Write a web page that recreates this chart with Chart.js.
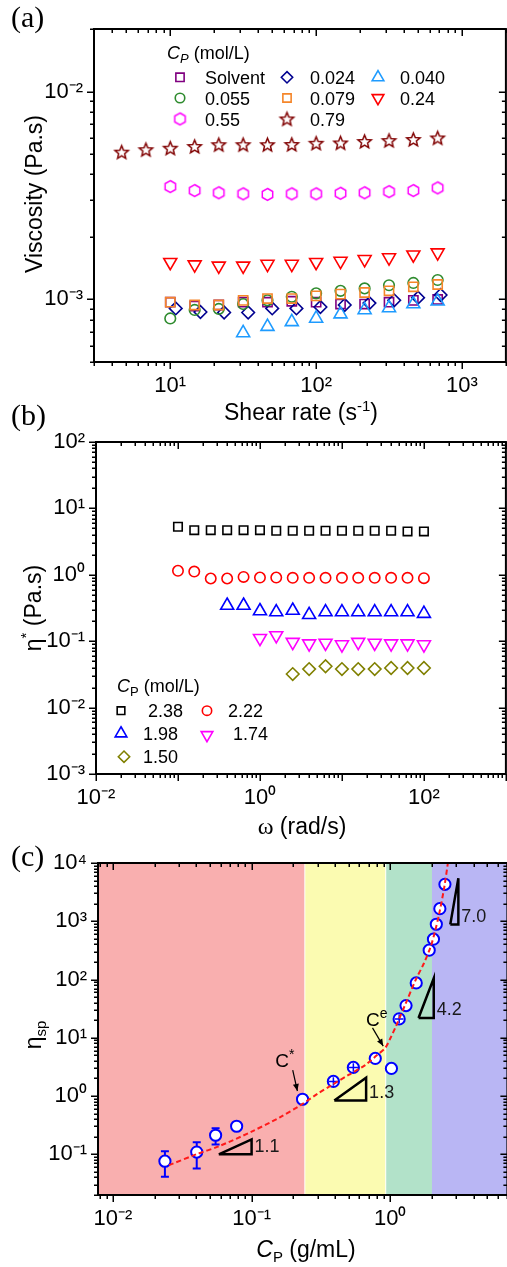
<!DOCTYPE html>
<html><head><meta charset="utf-8">
<script src="https://cdn.jsdelivr.net/npm/chart.js@4.4.0/dist/chart.umd.min.js"></script>
<style>
html,body{margin:0;padding:0;background:#fff;overflow:hidden;}
#wrap{position:relative;width:507px;height:1267px;overflow:hidden;background:#fff;}
canvas{position:absolute;left:0;}
</style></head><body>
<div id="wrap">
<canvas id="ca" width="515" height="430" style="top:0px;width:515px;height:430px"></canvas>
<canvas id="cb" width="515" height="450" style="top:395px;width:515px;height:450px"></canvas>
<canvas id="cc" width="515" height="427" style="top:840px;width:515px;height:427px"></canvas>
</div>
<script>
// ================= DATA =================
// Panel (a): viscosity vs shear rate
const rateStar    = [4.64, 6.81, 10, 14.7, 21.5, 31.6, 46.4, 68.1, 100, 147, 215, 316, 464, 681];
const rateMain    = [10, 14.7, 21.5, 31.6, 46.4, 68.1, 100, 147, 215, 316, 464, 681];
const rateDiamond = [10.9, 16.1, 23.4, 34.2, 50, 73.3, 107, 157, 232, 343, 500, 713];
const rateTri     = [31.6, 46.4, 68.1, 100, 147, 215, 316, 464, 681];

const viscSolvent = [0.00097, 0.00093, 0.00094, 0.00097, 0.00097, 0.00098, 0.00097, 0.00095, 0.00095, 0.00097, 0.00099, 0.00100];
const visc0024    = [0.000905, 0.00087, 0.000865, 0.000865, 0.000905, 0.000905, 0.00092, 0.00094, 0.00096, 0.00099, 0.00102, 0.00105];
const visc0040    = [0.00069, 0.00074, 0.00078, 0.00081, 0.00085, 0.00089, 0.00091, 0.00095, 0.00098];
const visc0055    = [0.00081, 0.00089, 0.00090, 0.00095, 0.00099, 0.00103, 0.00107, 0.00110, 0.00113, 0.00117, 0.00120, 0.00124];
const visc0079    = [0.00097, 0.00094, 0.00094, 0.00099, 0.00101, 0.00101, 0.00104, 0.00106, 0.00108, 0.00110, 0.00115, 0.00118];
const visc024     = [0.00151, 0.00147, 0.00145, 0.00145, 0.00148, 0.00148, 0.00151, 0.00153, 0.00156, 0.00159, 0.00164, 0.00168];
const visc055     = [0.00349, 0.00334, 0.00326, 0.00322, 0.00320, 0.00322, 0.00322, 0.00324, 0.00326, 0.00330, 0.00334, 0.00344];
const visc079     = [0.00511, 0.00525, 0.00534, 0.00544, 0.00555, 0.00555, 0.00555, 0.00556, 0.00564, 0.00566, 0.00575, 0.00581, 0.00588, 0.00598];
const legendA     = ['Solvent', '0.024', '0.040', '0.055', '0.079', '0.24', '0.55', '0.79'];

// Panel (b): complex viscosity vs angular frequency
const omega   = [0.1, 0.158, 0.251, 0.398, 0.631, 1, 1.58, 2.51, 3.98, 6.31, 10, 15.8, 25.1, 39.8, 63.1, 100];
const omega198 = [0.398, 0.631, 1, 1.58, 2.51, 3.98, 6.31, 10, 15.8, 25.1, 39.8, 63.1, 100];
const omega174 = [1, 1.58, 2.51, 3.98, 6.31, 10, 15.8, 25.1, 39.8, 63.1, 100];
const omega150 = [2.51, 3.98, 6.31, 10, 15.8, 25.1, 39.8, 63.1, 100];
const eta238 = [5.3, 4.7, 4.7, 4.7, 4.7, 4.7, 4.6, 4.6, 4.6, 4.6, 4.6, 4.6, 4.6, 4.6, 4.5, 4.5];
const eta222 = [1.15, 1.12, 0.88, 0.88, 0.93, 0.91, 0.91, 0.90, 0.90, 0.90, 0.90, 0.90, 0.90, 0.90, 0.90, 0.89];
const eta198 = [0.345, 0.345, 0.285, 0.275, 0.29, 0.25, 0.275, 0.275, 0.275, 0.275, 0.275, 0.275, 0.26];
const eta174 = [0.111, 0.122, 0.097, 0.092, 0.094, 0.089, 0.097, 0.094, 0.092, 0.092, 0.089];
const eta150 = [0.032, 0.038, 0.042, 0.038, 0.038, 0.038, 0.0395, 0.0395, 0.0395];
const legendB = ['2.38', '2.22', '1.98', '1.74', '1.50'];

// Panel (c): specific viscosity vs concentration
const concP  = [0.0237, 0.0402, 0.055, 0.078, 0.233, 0.389, 0.542, 0.78, 1.02, 1.16, 1.30, 1.54, 1.91, 2.05, 2.15, 2.28, 2.48];
const etaSp  = [0.076, 0.109, 0.212, 0.303, 0.88, 1.78, 3.1, 4.42, 2.98, 21.1, 35.7, 87.5, 319, 492, 889, 1645, 4300];
const errLow  = [0.041, 0.057, 0.147, null, null, 1.5, 2.6, null, null, 17.7, null, null, null, null, null, null, null];
const errHigh = [0.113, 0.161, 0.28, null, null, 2.1, 3.65, null, null, 25, null, null, null, null, null, null, null];
const errXLow  = [null, null, null, null, null, 0.36, 0.50, null, null, 1.08, null, null, null, null, null, null, null];
const errXHigh = [null, null, null, null, null, 0.42, 0.585, null, null, 1.245, null, null, null, null, null, null, null];
const fitX = [0.0254, 0.04, 0.058, 0.1, 0.16, 0.226, 0.3, 0.38, 0.5, 0.66, 0.8, 0.92, 1.0, 1.1, 1.3, 1.53, 1.75, 1.96, 2.1, 2.25, 2.45, 2.62];
const fitY = [0.065, 0.1, 0.137, 0.245, 0.43, 0.70, 1.1, 1.55, 2.3, 3.4, 5.0, 6.7, 9.7, 15.8, 40, 100, 190, 370, 660, 1320, 3760, 11000];
const regionEdges = [0.0078, 0.24, 0.92, 2.0, 7];
const slope11X = [0.058, 0.1, 0.1, 0.058], slope11Y = [0.1, 0.18, 0.1, 0.1];
const slope13X = [0.395, 0.67, 0.67, 0.395], slope13Y = [0.84, 2.07, 0.84, 0.84];
const slope42X = [1.6, 2.06, 2.06, 1.6],     slope42Y = [21.9, 105, 21.9, 21.9];
const slope70X = [2.71, 3.1, 3.1, 2.71],     slope70Y = [880, 5500, 880, 880];
const slopeLabels = ['1.1', '1.3', '4.2', '7.0'];

// ================= HELPERS =================
const FONT = '"Liberation Sans", Arial, Helvetica, sans-serif';
const SERIF = '"Liberation Serif", "Times New Roman", serif';
const SUP = {'-':'\u207B','0':'\u2070','1':'\u00B9','2':'\u00B2','3':'\u00B3','4':'\u2074','5':'\u2075','6':'\u2076','7':'\u2077','8':'\u2078','9':'\u2079'};
function powLabel(v, show) {
  const l = Math.log10(v), e = Math.round(l);
  if (Math.abs(l - e) > 1e-7 || !show.includes(e)) return '';
  return '10' + String(e).split('').map(c => SUP[c]).join('');
}
const pts = (xs, ys) => xs.map((x, i) => ({x, y: ys[i]}));

function polyImg(color, r, lw, kind) {
  const s = Math.ceil(2 * r + 2 * lw + 2);
  const c = document.createElement('canvas'); c.width = c.height = s;
  const g = c.getContext('2d'); g.strokeStyle = color; g.lineWidth = lw; g.lineJoin = 'miter';
  g.beginPath();
  if (kind === 'star') {
    for (let i = 0; i < 10; i++) { const a = -Math.PI / 2 + i * Math.PI / 5; const rr = i % 2 ? r * 0.45 : r; g.lineTo(s / 2 + rr * Math.cos(a), s / 2 + 0.5 + rr * Math.sin(a)); }
  } else {
    for (let i = 0; i < 6; i++) { const a = -Math.PI / 2 + i * Math.PI / 3; g.lineTo(s / 2 + r * Math.cos(a), s / 2 + r * Math.sin(a)); }
  }
  g.closePath(); g.stroke(); return c;
}
const starImg = polyImg('#800000', 7, 1.5, 'star');
const hexImg = polyImg('#FF00FF', 6, 1.5, 'hex');

function marker(ctx, style, x, y, r, color, lw, rot, fill) {
  ctx.save();
  if (style instanceof HTMLCanvasElement) { ctx.drawImage(style, x - style.width / 2, y - style.height / 2); ctx.restore(); return; }
  ctx.strokeStyle = color; ctx.lineWidth = lw; ctx.fillStyle = fill || 'rgba(0,0,0,0)';
  ctx.translate(x, y); ctx.rotate((rot || 0) * Math.PI / 180); ctx.beginPath();
  if (style === 'circle') ctx.arc(0, 0, r, 0, 2 * Math.PI);
  else if (style === 'rect') { const s = r * Math.SQRT1_2; ctx.rect(-s, -s, 2 * s, 2 * s); }
  else if (style === 'rectRot') { ctx.moveTo(-r, 0); ctx.lineTo(0, -r); ctx.lineTo(r, 0); ctx.lineTo(0, r); ctx.closePath(); }
  else if (style === 'triangle') { for (let i = 0; i < 3; i++) { const a = i * 2 * Math.PI / 3; ctx.lineTo(Math.sin(a) * r, -Math.cos(a) * r); } ctx.closePath(); }
  ctx.fill(); ctx.stroke(); ctx.restore();
}

function rich(ctx, segs, x, y, rot, align) {
  ctx.save(); ctx.translate(x, y); if (rot) ctx.rotate(rot);
  let w = 0; segs.forEach(s => { ctx.font = s.f; s.w = ctx.measureText(s.t).width; w += s.w; });
  let cx = align === 'left' ? 0 : -w / 2;
  ctx.textBaseline = 'alphabetic'; ctx.fillStyle = '#000';
  segs.forEach(s => { ctx.font = s.f; ctx.fillStyle = s.c || '#000'; ctx.fillText(s.t, cx, s.dy || 0); cx += s.w; });
  ctx.restore();
}

function drawLogTicks(ctx, scale, area, side) {
  const min = scale.min, max = scale.max;
  const e0 = Math.floor(Math.log10(min)), e1 = Math.ceil(Math.log10(max));
  ctx.save(); ctx.strokeStyle = '#000'; ctx.lineWidth = 1.5; ctx.beginPath();
  for (let e = e0; e <= e1; e++) for (let k = 1; k <= 9; k++) {
    const v = k * Math.pow(10, e);
    if (v < min * 0.9999 || v > max * 1.0001) continue;
    const p = Math.round(scale.getPixelForValue(v)) + 0.25;
    const len = k === 1 ? 7 : 4;
    if (side === 'bottom') { ctx.moveTo(p, area.bottom); ctx.lineTo(p, area.bottom + len); }
    if (side === 'top') { ctx.moveTo(p, area.top); ctx.lineTo(p, area.top + len); }
    if (side === 'left') { ctx.moveTo(area.left, p); ctx.lineTo(area.left - len, p); }
    if (side === 'right') { ctx.moveTo(area.right, p); ctx.lineTo(area.right - len, p); }
  }
  ctx.stroke(); ctx.restore();
}

function frameAndTicks(chart) {
  const ctx = chart.ctx, a = chart.chartArea, x = chart.scales.x, y = chart.scales.y;
  drawLogTicks(ctx, x, a, 'bottom'); drawLogTicks(ctx, x, a, 'top');
  drawLogTicks(ctx, y, a, 'left'); drawLogTicks(ctx, y, a, 'right');
  ctx.save(); ctx.strokeStyle = '#000'; ctx.lineWidth = 2;
  ctx.strokeRect(a.left, a.top, a.right - a.left, a.bottom - a.top); ctx.restore();
}

function logAxis(min, max, show, fitFn) {
  return {
    type: 'logarithmic', min, max,
    grid: {display: true, drawOnChartArea: false, drawTicks: true, tickLength: 6, color: 'rgba(0,0,0,0)'},
    border: {display: false},
    ticks: {autoSkip: false, maxRotation: 0, minRotation: 0, padding: 5, color: '#000',
      font: {family: FONT, size: 22}, callback: v => powLabel(v, show)},
    afterFit: fitFn
  };
}
function baseOptions(pad, yW, xH, xs, ys) {
  return {
    responsive: false, animation: false, devicePixelRatio: 1,
    layout: {padding: pad},
    plugins: {legend: {display: false}, tooltip: {enabled: false}},
    scales: {
      x: logAxis(xs[0], xs[1], xs[2], s => { s.height = xH; }),
      y: logAxis(ys[0], ys[1], ys[2], s => { s.width = yW; })
    }
  };
}
Chart.defaults.font.family = FONT;

// ================= PANEL (a) =================
const stylesA = [
  {c: '#800080', s: 'rect', r: 6.5},
  {c: '#000090', s: 'rectRot', r: 6.3},
  {c: '#1E9BFF', s: 'triangle', r: 7.5},
  {c: '#2E8B2E', s: 'circle', r: 5.3},
  {c: '#F5862A', s: 'rect', r: 6.5},
  {c: '#FF0000', s: 'triangle', r: 7.5, rot: 180},
  {c: '#FF00FF', s: hexImg, r: 6},
  {c: '#800000', s: starImg, r: 7}
];
const seriesA = [
  pts(rateMain, viscSolvent), pts(rateDiamond, visc0024), pts(rateTri, visc0040), pts(rateMain, visc0055),
  pts(rateMain, visc0079), pts(rateMain, visc024), pts(rateMain, visc055), pts(rateStar, visc079)
];
const optA = baseOptions({top: 29, right: 7, left: 0, bottom: 0}, 94, 68, [3, 2000, [1, 2, 3]], [0.0005, 0.02, [-2, -3]]);
new Chart(document.getElementById('ca'), {
  type: 'scatter',
  data: {datasets: seriesA.map((d, i) => ({
    label: legendA[i], data: d, order: 10 - i,
    pointStyle: stylesA[i].s, pointRadius: stylesA[i].r, pointRotation: stylesA[i].rot || 0,
    borderColor: stylesA[i].c, backgroundColor: 'rgba(0,0,0,0)', pointBorderWidth: 1.6
  }))},
  options: optA,
  plugins: [{
    id: 'decorA',
    afterDraw(chart) {
      const ctx = chart.ctx;
      frameAndTicks(chart);
      rich(ctx, [{t: 'Viscosity (Pa.s)', f: '23px ' + FONT}], 42, 194, -Math.PI / 2);
      rich(ctx, [{t: 'Shear rate (s', f: '23px ' + FONT}, {t: '-1', f: '15px ' + FONT, dy: -9}, {t: ')', f: '23px ' + FONT}], 301, 420);
      rich(ctx, [{t: '(a)', f: '30px ' + SERIF}], 11, 27, 0, 'left');
      // legend
      rich(ctx, [{t: 'C', f: 'italic 18px ' + FONT}, {t: 'P', f: 'italic 13px ' + FONT, dy: 4}, {t: ' (mol/L)', f: '18px ' + FONT}], 167, 59, 0, 'left');
      const colMx = [180, 287, 378], colTx = [205, 310, 400], rowY = [77.3, 98, 119], rowB = [83.5, 104.5, 125.5];
      legendA.forEach((lab, i) => {
        const col = i % 3, row = Math.floor(i / 3), st = stylesA[i];
        marker(ctx, st.s, colMx[col], rowY[row], st.r * 0.9, st.c, 1.6, st.rot || 0);
        rich(ctx, [{t: lab, f: '18px ' + FONT}], colTx[col], rowB[row], 0, 'left');
      });
    }
  }]
});

// ================= PANEL (b) =================
const stylesB = [
  {c: '#000000', s: 'rect', r: 6},
  {c: '#FF0000', s: 'circle', r: 5.2},
  {c: '#0000FF', s: 'triangle', r: 7.5},
  {c: '#FF00FF', s: 'triangle', r: 7.5, rot: 180},
  {c: '#808000', s: 'rectRot', r: 6.3}
];
const seriesB = [pts(omega, eta238), pts(omega, eta222), pts(omega198, eta198), pts(omega174, eta174), pts(omega150, eta150)];
const optB = baseOptions({top: 47, right: 4, left: 0, bottom: 0}, 96, 71, [0.01, 1000, [-2, 0, 2]], [0.001, 100, [-3, -2, -1, 0, 1, 2]]);
new Chart(document.getElementById('cb'), {
  type: 'scatter',
  data: {datasets: seriesB.map((d, i) => ({
    label: legendB[i], data: d,
    pointStyle: stylesB[i].s, pointRadius: stylesB[i].r, pointRotation: stylesB[i].rot || 0,
    borderColor: stylesB[i].c, backgroundColor: 'rgba(0,0,0,0)', pointBorderWidth: 1.6
  }))},
  options: optB,
  plugins: [{
    id: 'decorB',
    afterDraw(chart) {
      const ctx = chart.ctx;
      frameAndTicks(chart);
      rich(ctx, [{t: '\u03B7', f: '23px ' + FONT}, {t: '*', f: '15px ' + FONT, dy: -10}, {t: ' (Pa.s)', f: '23px ' + FONT}], 41, 213, -Math.PI / 2);
      rich(ctx, [{t: '\u03C9', f: '24px ' + SERIF}, {t: ' (rad/s)', f: '23px ' + FONT}], 302, 439);
      rich(ctx, [{t: '(b)', f: '30px ' + SERIF}], 11, 30, 0, 'left');
      rich(ctx, [{t: 'C', f: 'italic 18px ' + FONT}, {t: 'P', f: '13px ' + FONT, dy: 4}, {t: ' (mol/L)', f: '18px ' + FONT}], 117, 297, 0, 'left');
      const mx = [121, 207, 121, 207, 124], my = [315.7, 315.7, 338.5, 340, 361.7];
      const tx = [148, 228, 143, 233, 143], tb = [322, 322, 345, 345, 368];
      legendB.forEach((lab, i) => {
        const st = stylesB[i];
        marker(ctx, st.s, mx[i], my[i], st.r * 0.9, st.c, 1.6, st.rot || 0);
        rich(ctx, [{t: lab, f: '18px ' + FONT}], tx[i], tb[i], 0, 'left');
      });
    }
  }]
});

// ================= PANEL (c) =================
const regionColors = ['#F9AFAF', '#FBFBB1', '#B2E2C9', '#B9B6F4'];
const optC = baseOptions({top: 23, right: 7, left: 0, bottom: 0}, 98, 72, [0.0078, 7, [-2, -1, 0]], [0.02, 10000, [-1, 0, 1, 2, 3, 4]]);
const triDs = (xs, ys) => ({type: 'line', data: pts(xs, ys), showLine: true, borderColor: '#000', borderWidth: 2.5,
  pointRadius: 0, fill: false, tension: 0, borderJoinStyle: 'miter', order: 1});
new Chart(document.getElementById('cc'), {
  type: 'scatter',
  data: {datasets: [
    {label: 'eta_sp', data: pts(concP, etaSp), pointStyle: 'circle', pointRadius: 5.6, pointBorderWidth: 2,
      borderColor: '#0000FF', backgroundColor: '#FFFFFF', order: 2},
    {label: 'fit', type: 'line', data: pts(fitX, fitY), showLine: true, borderColor: '#FF1A1A', borderWidth: 2,
      borderDash: [5, 3], pointRadius: 0, fill: false, tension: 0.3, order: 0},
    triDs(slope11X, slope11Y), triDs(slope13X, slope13Y), triDs(slope42X, slope42Y), triDs(slope70X, slope70Y)
  ]},
  options: optC,
  plugins: [{
    id: 'decorC',
    beforeDatasetsDraw(chart) {
      const ctx = chart.ctx, a = chart.chartArea, xs = chart.scales.x, ys = chart.scales.y;
      ctx.save();
      for (let i = 0; i < regionColors.length; i++) {
        const x0 = xs.getPixelForValue(regionEdges[i]) + (i === 1 || i === 2 ? 1 : 0);
        const x1 = xs.getPixelForValue(regionEdges[i + 1]);
        ctx.fillStyle = regionColors[i]; ctx.fillRect(x0, a.top, x1 - x0, a.bottom - a.top);
      }
      ctx.strokeStyle = '#0000FF'; ctx.lineWidth = 2; ctx.beginPath();
      concP.forEach((cx, i) => {
        if (errLow[i] == null || errXLow[i] != null) return;
        const px = xs.getPixelForValue(cx), lo = ys.getPixelForValue(errLow[i]), hi = ys.getPixelForValue(errHigh[i]);
        ctx.moveTo(px, lo); ctx.lineTo(px, hi);
        ctx.moveTo(px - 4, lo); ctx.lineTo(px + 4, lo); ctx.moveTo(px - 4, hi); ctx.lineTo(px + 4, hi);
      });
      ctx.stroke(); ctx.restore();
    },
    afterDatasetDraw(chart, args) {
      if (args.index !== 0) return;
      const ctx = chart.ctx, xs = chart.scales.x, ys = chart.scales.y;
      ctx.save(); ctx.strokeStyle = '#0000FF'; ctx.lineWidth = 1.5; ctx.beginPath();
      concP.forEach((cx, i) => {
        if (errXLow[i] == null) return;
        const px = xs.getPixelForValue(cx), py = ys.getPixelForValue(etaSp[i]);
        ctx.moveTo(px, ys.getPixelForValue(errLow[i])); ctx.lineTo(px, ys.getPixelForValue(errHigh[i]));
        ctx.moveTo(xs.getPixelForValue(errXLow[i]), py); ctx.lineTo(xs.getPixelForValue(errXHigh[i]), py);
      });
      ctx.stroke(); ctx.restore();
    },
    afterDraw(chart) {
      const ctx = chart.ctx, xs = chart.scales.x, ys = chart.scales.y;
      frameAndTicks(chart);
      // slope labels
      [[slope11X, slope11Y], [slope13X, slope13Y], [slope42X, slope42Y], [slope70X, slope70Y]].forEach((t, i) => {
        const px = xs.getPixelForValue(t[0][1]) + 3, py = ys.getPixelForValue(t[1][2]) - 2.5;
        rich(ctx, [{t: slopeLabels[i], f: '18px ' + FONT, c: '#1a1a1a'}], px, py, 0, 'left');
      });
      // C* and Ce annotations
      const arrows = [
        {tail: [0.198, 2.78], tip: [0.214, 1.22], dx: -17.5, dy: -3.5, sup: '*'},
        {tail: [0.745, 14.8], tip: [0.89, 7.2], dx: -6.5, dy: -1.5, sup: 'e'}
      ];
      arrows.forEach(a => {
        const x0 = xs.getPixelForValue(a.tail[0]), y0 = ys.getPixelForValue(a.tail[1]);
        const x1 = xs.getPixelForValue(a.tip[0]), y1 = ys.getPixelForValue(a.tip[1]);
        ctx.save(); ctx.strokeStyle = '#000'; ctx.fillStyle = '#000'; ctx.lineWidth = 1.2;
        ctx.beginPath(); ctx.moveTo(x0, y0); ctx.lineTo(x1, y1); ctx.stroke();
        const ang = Math.atan2(y1 - y0, x1 - x0), L = 7, W = 3;
        ctx.beginPath(); ctx.moveTo(x1, y1);
        ctx.lineTo(x1 - L * Math.cos(ang) + W * Math.sin(ang), y1 - L * Math.sin(ang) - W * Math.cos(ang));
        ctx.lineTo(x1 - L * Math.cos(ang) - W * Math.sin(ang), y1 - L * Math.sin(ang) + W * Math.cos(ang));
        ctx.closePath(); ctx.fill(); ctx.restore();
        rich(ctx, [{t: 'C', f: '19px ' + FONT}, {t: a.sup, f: '14px ' + FONT, dy: -8}], x0 + a.dx, y0 + a.dy, 0, 'left');
      });
      rich(ctx, [{t: '\u03B7', f: '23px ' + FONT}, {t: 'sp', f: '15px ' + FONT, dy: 5}], 41, 195, -Math.PI / 2);
      rich(ctx, [{t: 'C', f: 'italic 23px ' + FONT}, {t: 'P', f: '15px ' + FONT, dy: 5}, {t: ' (g/mL)', f: '23px ' + FONT}], 306, 417);
      rich(ctx, [{t: '(c)', f: '30px ' + SERIF}], 11, 26, 0, 'left');
    }
  }]
});
</script>
</body></html>
